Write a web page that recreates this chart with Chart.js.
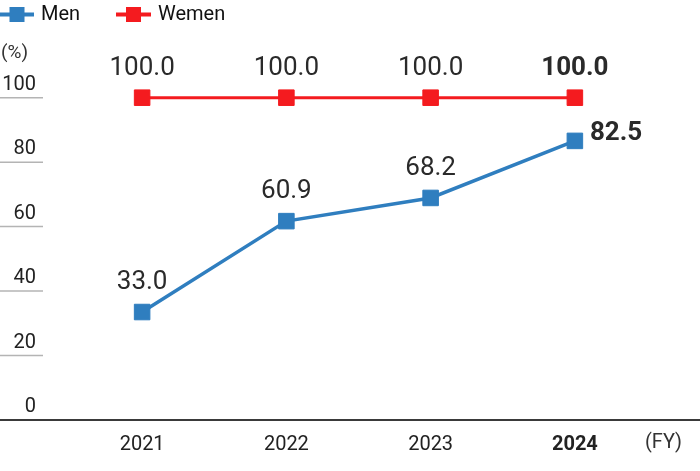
<!DOCTYPE html>
<html><head><meta charset="utf-8">
<script src="https://cdn.jsdelivr.net/npm/chart.js@4.4.1/dist/chart.umd.min.js"></script>
<style>html,body{margin:0;padding:0;background:#fff}#wrap{width:700px;height:471px;position:relative}</style>
</head><body><div id="wrap"><canvas id="c" width="700" height="471"></canvas></div>
<script>
const categories = ['2021', '2022', '2023', '2024'];
const menValues = [33.5, 61.7, 68.9, 86.6];
const womenValues = [100, 100, 100, 100];
const menLabels = ['33.0', '60.9', '68.2', '82.5'];
const womenLabels = ['100.0', '100.0', '100.0', '100.0'];
const yTicks = [0, 20, 40, 60, 80, 100];
const seriesNames = ['Men', 'Wemen'];
const unitY = '(%)';
const unitX = '(FY)';

const BLUE = '#2f7ebf';
const RED = '#f41b1f';
const FONT = 'Roboto, "Noto Sans", sans-serif';

const deco = {
  id: 'deco',
  afterDraw(chart) {
    const ctx = chart.ctx;
    const y = chart.scales.y;
    ctx.save();
    // short y grid segments
    ctx.strokeStyle = '#b4b4b4';
    ctx.lineWidth = 1.5;
    yTicks.forEach(v => {
      if (v === 0) return;
      const py = y.getPixelForValue(v);
      ctx.beginPath(); ctx.moveTo(0, py); ctx.lineTo(43, py); ctx.stroke();
    });
    // base axis line
    const p0 = y.getPixelForValue(0);
    ctx.strokeStyle = '#3a3a3a';
    ctx.lineWidth = 2;
    ctx.beginPath(); ctx.moveTo(0, p0); ctx.lineTo(700, p0); ctx.stroke();
    // units
    ctx.fillStyle = '#333';
    ctx.font = '19px ' + FONT;
    ctx.textAlign = 'left';
    ctx.textBaseline = 'middle';
    ctx.fillText(unitY, 1, 53);
    ctx.font = '20px ' + FONT;
    ctx.fillText(unitX, 645, 443);
    // legend
    const items = [[seriesNames[0], BLUE, 0, 34], [seriesNames[1], RED, 116, 151]];
    items.forEach(([name, col, x1, x2]) => {
      ctx.strokeStyle = col; ctx.lineWidth = 4;
      ctx.beginPath(); ctx.moveTo(x1, 14.5); ctx.lineTo(x2, 14.5); ctx.stroke();
      ctx.fillStyle = col;
      const cx = (x1 + x2) / 2;
      ctx.fillRect(cx - 7.5, 7, 15, 15);
      ctx.fillStyle = '#111';
      ctx.font = '20px ' + FONT;
      ctx.textBaseline = 'middle';
      ctx.fillText(name, x2 + 7, 14.5);
    });
    ctx.restore();
  },
  afterDatasetsDraw(chart) {
    const ctx = chart.ctx;
    ctx.save();
    ctx.fillStyle = '#2a2a2a';
    ctx.textBaseline = 'alphabetic';
    const sets = [menLabels, womenLabels];
    chart.data.datasets.forEach((ds, di) => {
      const meta = chart.getDatasetMeta(di);
      meta.data.forEach((pt, i) => {
        const last = i === categories.length - 1;
        ctx.font = (last ? 'bold ' : '') + '26px ' + FONT;
        if (di === 0 && last) {
          ctx.textAlign = 'left';
          ctx.fillText(sets[di][i], pt.x + 15, pt.y - 0.5);
        } else {
          ctx.textAlign = 'center';
          ctx.fillText(sets[di][i], pt.x, pt.y - 23);
        }
      });
    });
    ctx.restore();
  }
};

new Chart(document.getElementById('c'), {
  type: 'line',
  data: {
    labels: categories,
    datasets: [
      { label: seriesNames[0], data: menValues, borderColor: BLUE, backgroundColor: BLUE,
        borderWidth: 3.5, pointStyle: 'rect', pointRadius: 11, pointBorderWidth: 1,
        pointBorderColor: BLUE, pointBackgroundColor: BLUE, clip: false, tension: 0 },
      { label: seriesNames[1], data: womenValues, borderColor: RED, backgroundColor: RED,
        borderWidth: 3, pointStyle: 'rect', pointRadius: 11, pointBorderWidth: 1,
        pointBorderColor: RED, pointBackgroundColor: RED, clip: false, tension: 0 }
    ]
  },
  options: {
    responsive: false,
    animation: false,
    events: [],
    layout: { padding: { top: 97.7, right: 53, bottom: 0, left: 0 } },
    plugins: { legend: { display: false }, tooltip: { enabled: false } },
    scales: {
      x: {
        offset: true,
        grid: { display: false, drawTicks: false },
        border: { display: false },
        ticks: {
          padding: 13,
          color: '#222',
          font: (c) => ({ family: FONT, size: 20, weight: c.index === categories.length - 1 ? 'bold' : 'normal' })
        },
        afterFit(s) { s.height = 51; }
      },
      y: {
        min: 0, max: 100,
        afterBuildTicks(s) { s.ticks = yTicks.map(v => ({ value: v })); },
        grid: { display: false, drawTicks: false },
        border: { display: false },
        ticks: { padding: 34, labelOffset: -13, color: '#222', font: { family: FONT, size: 20 } },
        afterFit(s) { s.width = 70; }
      }
    }
  },
  plugins: [deco]
});
</script>
</body></html>
